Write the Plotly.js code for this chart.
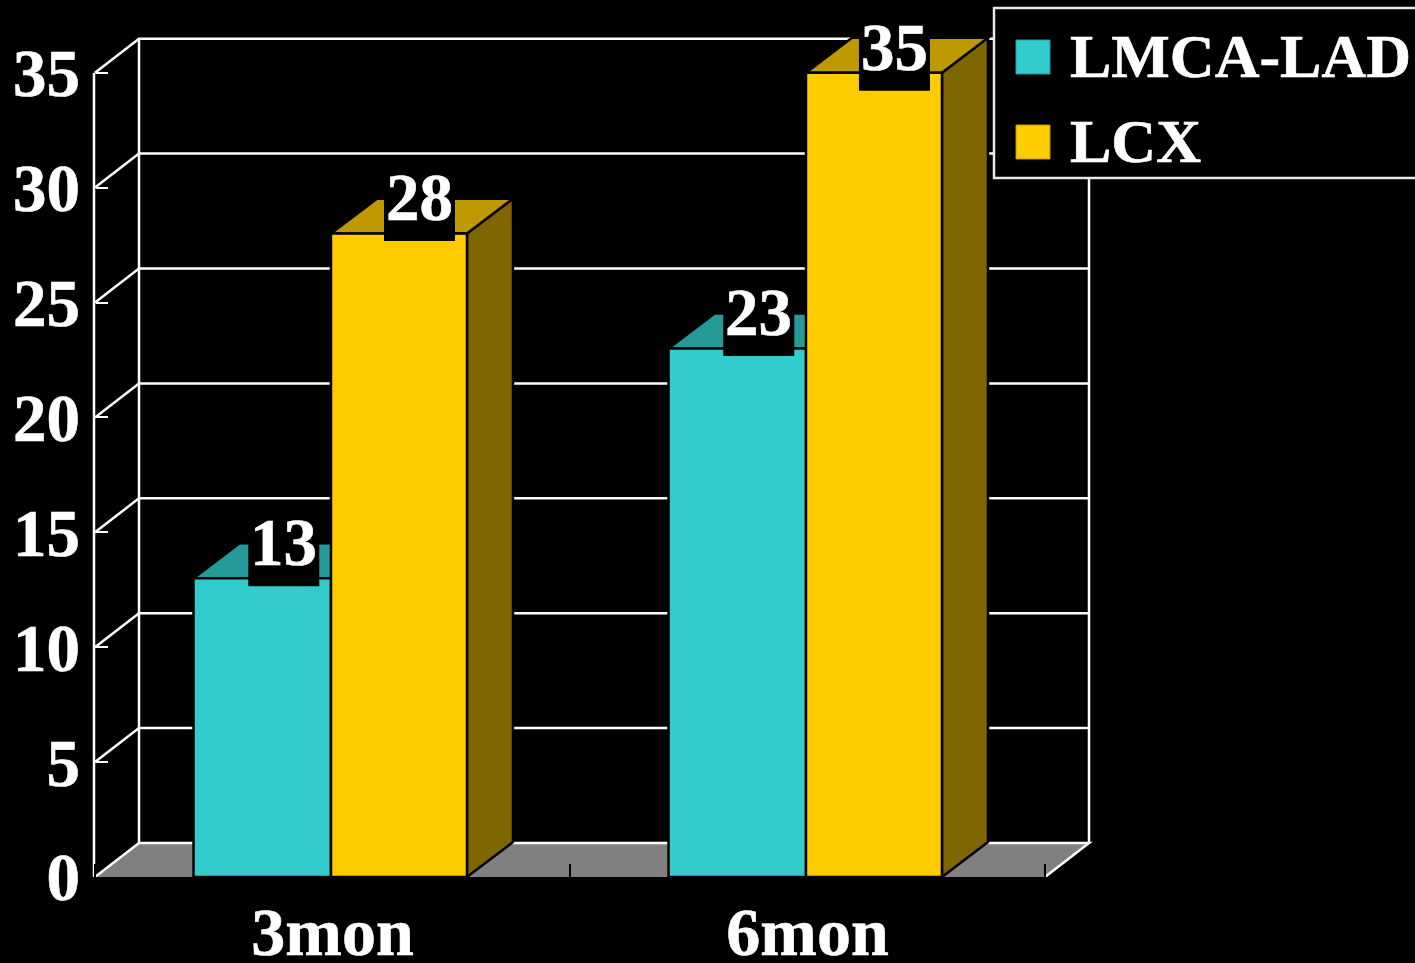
<!DOCTYPE html>
<html>
<head>
<meta charset="utf-8">
<title>LMCA-LAD and LCX at 3 and 6 months</title>
<script src="https://cdn.plot.ly/plotly-3.0.1.min.js"></script>
<style>
html,body{margin:0;padding:0;background:#000;overflow:hidden}
/* Slightly heavier serif numerals and labels */
.xtick text,.ytick text,.annotation-text{stroke:#fff;stroke-width:0.6px}
</style>
</head>
<body>
<div id="chart" style="width:1415px;height:963px"></div>
<script>
// Chart data
var categories = ['3mon', '6mon'];
var lmcaLad = [13, 23];
var lcx = [28, 35];
var yTicks = [0, 5, 10, 15, 20, 25, 30, 35];

// Styling per series
var seriesNames = ['LMCA-LAD', 'LCX'];
var frontColors = ['#33CCCC', '#FFCC00'];
var topColors = ['#269999', '#BF9900'];
var sideColors = ['#1A6666', '#806600'];

// Plot frame in pixels and the resulting scales
var L = 90, R = 1095, T = 25, B = 877;
var pxPerCat = 475, pxPerUnit = 22.98;
var xMin = -0.5 - 5 / pxPerCat, xMax = 1.5 + 50 / pxPerCat;
var yMax = (B - T) / pxPerUnit;

// Oblique depth of the pseudo-3D box and of the bars, in axis units
var depthX = 44 / pxPerCat, depthY = 1.48;
var barDepthX = 46 / pxPerCat, barDepthY = 1.52;
var barWidths = [0.2895, 0.2863];
var barOffsets = [-0.2926, -0.0032];
var labelDrop = [[8, 7.5], [7.5, 18]];
var labelShift = [21.5, 20.5];

var FONT = '"Liberation Serif", "Times New Roman", serif';
var WHITE = '#FFFFFF';
var LINE = 2.5;

function open(points) {
  return points.map(function (p, i) { return (i ? 'L' : 'M') + p[0] + ',' + p[1]; }).join('');
}
function poly(points) { return open(points) + 'Z'; }
function dataShape(path, fill, color, width) {
  return {
    type: 'path', xref: 'x', yref: 'y', layer: 'below', path: path,
    fillcolor: fill || 'rgba(0,0,0,0)',
    line: { color: color, width: width }
  };
}
var px = function (v) { return (v - L) / (R - L); };
var py = function (v) { return (B - v) / (B - T); };

var shapes = [];
var left = -0.5, right = 1.5;

// Floor
shapes.push(dataShape(poly([[left, 0], [right, 0], [right + depthX, depthY], [left + depthX, depthY]]), '#808080', 'rgba(0,0,0,0)', 0));
shapes.push(dataShape(open([[left, 0], [left + depthX, depthY], [right + depthX, depthY], [right, 0]]), null, WHITE, LINE));

// Side wall diagonals and back wall gridlines
yTicks.slice(1).forEach(function (v) {
  shapes.push(dataShape(open([[left, v], [left + depthX, v + depthY], [right + depthX, v + depthY]]), null, WHITE, LINE));
});
// Back wall verticals and the front vertical edge
shapes.push(dataShape(open([[left + depthX, depthY], [left + depthX, 35 + depthY]]), null, WHITE, LINE));
shapes.push(dataShape(open([[right + depthX, depthY], [right + depthX, 35 + depthY]]), null, WHITE, LINE));
shapes.push(dataShape(open([[left - 1 / pxPerCat, 0], [left - 1 / pxPerCat, 35]]), null, WHITE, LINE));

// Top and side faces of each bar; front faces are the bar traces above them
[lmcaLad, lcx].forEach(function (values, s) {
  values.forEach(function (v, c) {
    var x0 = c + barOffsets[s], x1 = x0 + barWidths[s];
    shapes.push(dataShape(poly([[x1, 0], [x1 + barDepthX, barDepthY], [x1 + barDepthX, v + barDepthY], [x1, v]]), sideColors[s], '#000000', LINE));
    shapes.push(dataShape(poly([[x0, v], [x1, v], [x1 + barDepthX, v + barDepthY], [x0 + barDepthX, v + barDepthY]]), topColors[s], '#000000', LINE));
  });
});

// Value labels on black plates, sitting across the top face of each bar
var annotations = [];
[lmcaLad, lcx].forEach(function (values, s) {
  values.forEach(function (v, c) {
    var cx = c + barOffsets[s] + barWidths[s] / 2 + labelShift[s] / pxPerCat;
    shapes.push({
      type: 'rect', layer: 'above', xref: 'x', yref: 'y',
      xsizemode: 'pixel', ysizemode: 'pixel', xanchor: cx, yanchor: v,
      x0: -35.5, x1: 35.5, y0: -labelDrop[s][c], y1: 58 - labelDrop[s][c],
      fillcolor: '#000000', line: { width: 0 }
    });
    annotations.push({
      xref: 'x', yref: 'y', x: cx, y: v,
      xanchor: 'center', yanchor: 'bottom', yshift: 6 - labelDrop[s][c],
      text: String(v), showarrow: false, borderpad: 1, borderwidth: 0,
      font: { family: FONT, size: 67, color: WHITE, weight: 700 }
    });
  });
});

// Key box in the upper right
shapes.push({
  type: 'rect', xref: 'paper', yref: 'paper', layer: 'above',
  x0: px(994), x1: px(1425), y0: py(178), y1: py(8),
  fillcolor: '#000000', line: { color: '#E8E8E8', width: LINE }
});
var swatchTops = [40, 125], keyCentres = [56, 141];
seriesNames.forEach(function (name, s) {
  shapes.push({
    type: 'rect', xref: 'paper', yref: 'paper', layer: 'above',
    x0: px(1016), x1: px(1050), y0: py(swatchTops[s] + 34), y1: py(swatchTops[s]),
    fillcolor: frontColors[s], line: { color: topColors[s], width: 1 }
  });
  annotations.push({
    xref: 'paper', yref: 'paper', x: px(1068), y: py(keyCentres[s]),
    xanchor: 'left', yanchor: 'middle', text: name, showarrow: false,
    font: { family: FONT, size: 62, color: WHITE, weight: 700 }
  });
});

var traces = [lmcaLad, lcx].map(function (values, s) {
  return {
    type: 'bar', name: seriesNames[s], x: categories, y: values,
    width: barWidths[s], offset: barOffsets[s],
    marker: { color: frontColors[s], line: { color: '#000000', width: LINE } },
    showlegend: false, hoverinfo: 'skip'
  };
});

var layout = {
  width: 1415, height: 963,
  paper_bgcolor: '#000000', plot_bgcolor: '#000000',
  margin: { l: L, r: 1415 - R, t: T, b: 963 - B, pad: 0 },
  barmode: 'overlay', showlegend: false, hovermode: false,
  xaxis: {
    type: 'category', categoryorder: 'array', categoryarray: categories,
    range: [xMin, xMax], fixedrange: true, showgrid: false, zeroline: false,
    showline: true, linecolor: '#000000', linewidth: 2,
    tickson: 'boundaries', ticks: 'inside', ticklen: 13, tickwidth: 2, tickcolor: '#000000',
    ticklabelstandoff: -6,
    tickfont: { family: FONT, size: 68, color: WHITE, weight: 700 }
  },
  yaxis: {
    range: [0, yMax], fixedrange: true, showgrid: false, zeroline: false, showline: false,
    anchor: 'free', position: 5 / (R - L),
    tickmode: 'array', tickvals: yTicks,
    ticks: 'inside', ticklen: 12, tickwidth: 2, tickcolor: WHITE,
    ticklabelstandoff: 15,
    tickfont: { family: FONT, size: 67, color: WHITE, weight: 700 }
  },
  shapes: shapes,
  annotations: annotations
};

Plotly.newPlot('chart', traces, layout, { displayModeBar: false, staticPlot: true });
</script>
</body>
</html>
